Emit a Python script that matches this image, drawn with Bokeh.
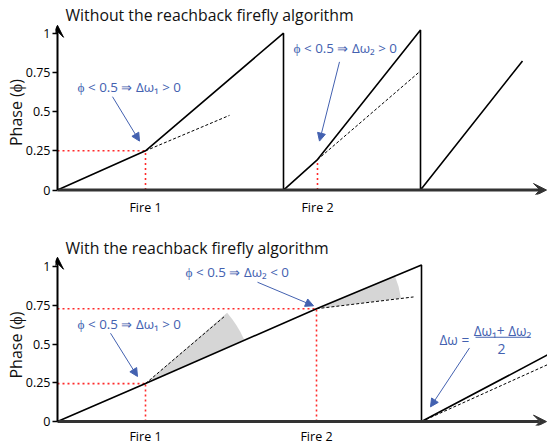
import math
from bokeh.plotting import figure
from bokeh.models import Range1d, FixedTicker, Arrow, VeeHead, NormalHead, Label, Title
from bokeh.layouts import column
from bokeh.embed import file_html
from bokeh.resources import INLINE

# ---------------- data (time: arbitrary units, phase: 0..1) ----------------
ytick_values = [0, 0.25, 0.5, 0.75, 1]
ytick_labels = ["0", "0.25", "0.5", "0.75", "1"]
fire_labels = ["Fire 1", "Fire 2"]

# Top panel: without the reachback firefly algorithm
top_fire_t = [88, 260]
top_fire_phase = [0.25, 0.194]
top_t = [0, 88, 226, 226, 260, 363, 363, 465]
top_phase = [0, 0.25, 1.0, 0, 0.194, 1.02, 0, 0.823]
top_dash1_t = [88, 172]
top_dash1_phase = [0.25, 0.476]
top_dash2_t = [260, 361]
top_dash2_phase = [0.194, 0.748]

# Bottom panel: with the reachback firefly algorithm
bot_fire_t = [88, 259]
bot_fire_phase = [0.245, 0.728]
bot_t = [0, 88, 259, 364, 364, 490]
bot_phase = [0, 0.245, 0.728, 1.01, 0, 0.43]
bot_dash1_t = [88, 168]
bot_dash1_phase = [0.245, 0.684]
bot_dash2_t = [259, 356]
bot_dash2_phase = [0.728, 0.804]
bot_dash3_t = [364, 490]
bot_dash3_phase = [0, 0.367]

# ---------------- styling ----------------
FONT = "Open Sans"
BLUE = "#4361b0"
RED = "#ff2a2a"
GREY = "#d6d6d6"
W = 547
X_RANGE = (-2.0, 490.0)
FRAME_LEFT = 55
SX = (W - FRAME_LEFT) / (X_RANGE[1] - X_RANGE[0])


def make_panel(height, y_range, border_bottom, label_standoff, fire_t, ylabel_offset):
    p = figure(width=W, height=height, output_backend="svg", toolbar_location=None,
               x_range=Range1d(*X_RANGE), y_range=Range1d(*y_range),
               min_border_left=FRAME_LEFT, min_border_right=0, min_border_top=0,
               min_border_bottom=border_bottom)
    p.title.visible = False
    p.grid.visible = False
    p.outline_line_color = None
    p.background_fill_color = "white"
    p.border_fill_color = "white"
    ya = p.yaxis[0]
    ya.ticker = FixedTicker(ticks=ytick_values)
    ya.major_label_overrides = {v: s for v, s in zip(ytick_values, ytick_labels)}
    ya.axis_line_color = None
    ya.major_tick_in = 2
    ya.major_tick_out = 3
    ya.major_tick_line_width = 1.5
    ya.minor_tick_line_color = None
    ya.major_label_standoff = 2
    ya.major_label_text_font = FONT
    ya.major_label_text_font_size = "12.5px"
    ya.major_label_text_color = "black"
    xa = p.xaxis[0]
    xa.ticker = FixedTicker(ticks=fire_t)
    xa.major_label_overrides = {v: s for v, s in zip(fire_t, fire_labels)}
    xa.axis_line_color = None
    xa.major_tick_line_color = None
    xa.minor_tick_line_color = None
    xa.major_tick_in = 0
    xa.major_tick_out = 0
    xa.major_label_standoff = label_standoff
    xa.major_label_text_font = FONT
    xa.major_label_text_font_size = "12.5px"
    xa.major_label_text_color = "black"
    # y-axis label as a side title, so that it can sit off-centre like the reference
    p.add_layout(Title(text="Phase (ϕ)", align="left", offset=ylabel_offset,
                       text_font=FONT, text_font_size="16px", text_font_style="normal",
                       text_color="#111111", standoff=-8), "left")
    return p


def axes_arrows(p, ytop):
    p.add_layout(Arrow(end=VeeHead(size=13, fill_color="#333333", line_color="#333333"),
                       x_start=0, y_start=0, x_end=489, y_end=0,
                       line_color="#333333", line_width=3))
    p.add_layout(Arrow(end=VeeHead(size=12, fill_color="black", line_color="black"),
                       x_start=0, y_start=0, x_end=0, y_end=ytop,
                       line_color="black", line_width=2))


def txt(p, x, y, s, size="13.4px", color=BLUE, align="left", angle=0.0):
    p.add_layout(Label(x=x, y=y, text=s, text_font=FONT, text_font_size=size,
                       text_color=color, text_align=align, text_baseline="middle",
                       angle=angle))


def blue_arrow(p, xs, ys, xe, ye):
    p.add_layout(Arrow(end=NormalHead(size=8, fill_color=BLUE, line_color=BLUE),
                       x_start=xs, y_start=ys, x_end=xe, y_end=ye,
                       line_color=BLUE, line_width=1))


def red_guides(p, t, ph, horizontal=True):
    p.line([t, t], [0, ph], line_color=RED, line_width=1.6, line_dash="2 3")
    if horizontal:
        p.line([0, t], [ph, ph], line_color=RED, line_width=1.6, line_dash="2 3")


# ---------------- top panel ----------------
top_yr = (-0.0284, 1.2082)
p1 = make_panel(218, top_yr, 22, 4, top_fire_t, 48.5)

red_guides(p1, top_fire_t[0], top_fire_phase[0], True)
red_guides(p1, top_fire_t[1], top_fire_phase[1], False)
p1.line(top_dash1_t, top_dash1_phase, line_color="black", line_width=1, line_dash="3 2")
p1.line(top_dash2_t, top_dash2_phase, line_color="black", line_width=1, line_dash="3 2")
p1.line(top_t, top_phase, line_color="black", line_width=1.6)
axes_arrows(p1, 1.05)

txt(p1, 8, 1.114, "Without the reachback firefly algorithm", size="15.8px", color="#111111")
txt(p1, 20, 0.659, "ϕ < 0.5 ⇒ Δω₁ > 0")
blue_arrow(p1, 55, 0.595, 82, 0.312)
txt(p1, 236, 0.905, "ϕ < 0.5 ⇒ Δω₂ > 0")
blue_arrow(p1, 282, 0.817, 262, 0.312)

# ---------------- bottom panel ----------------
bot_yr = (-0.0253, 1.3101)
p2 = make_panel(229, bot_yr, 18, 2, bot_fire_t, 47)
SY2 = 211 / (bot_yr[1] - bot_yr[0])


def screen_angle(t0, p0, t1, p1_, sy):
    return math.atan2((p1_ - p0) * sy, (t1 - t0) * SX)


a_solid1 = screen_angle(bot_fire_t[0], bot_fire_phase[0], bot_fire_t[1], bot_fire_phase[1], SY2)
a_dash1 = screen_angle(bot_dash1_t[0], bot_dash1_phase[0], bot_dash1_t[1], bot_dash1_phase[1], SY2)
a_solid2 = screen_angle(bot_fire_t[1], bot_fire_phase[1], bot_t[3], bot_phase[3], SY2)
a_dash2 = screen_angle(bot_dash2_t[0], bot_dash2_phase[0], bot_dash2_t[1], bot_dash2_phase[1], SY2)

p2.wedge(x=[bot_fire_t[0]], y=[bot_fire_phase[0]], radius=108, radius_units="screen",
         start_angle=a_solid1, end_angle=a_dash1, direction="anticlock",
         fill_color=GREY, line_color=None)
p2.wedge(x=[bot_fire_t[1]], y=[bot_fire_phase[1]], radius=85, radius_units="screen",
         start_angle=a_dash2, end_angle=a_solid2, direction="anticlock",
         fill_color=GREY, line_color=None)

for t, ph in zip(bot_fire_t, bot_fire_phase):
    red_guides(p2, t, ph, True)
for dt, dp in ((bot_dash1_t, bot_dash1_phase), (bot_dash2_t, bot_dash2_phase),
               (bot_dash3_t, bot_dash3_phase)):
    p2.line(dt, dp, line_color="black", line_width=1, line_dash="3 2")
p2.line(bot_t, bot_phase, line_color="black", line_width=1.6)
axes_arrows(p2, 1.06)

txt(p2, 8, 1.12, "With the reachback firefly algorithm", size="15.8px", color="#111111")
txt(p2, 128, 0.962, "ϕ < 0.5 ⇒ Δω₂ < 0")
blue_arrow(p2, 200, 0.899, 256, 0.747)
txt(p2, 20, 0.627, "ϕ < 0.5 ⇒ Δω₁ > 0")
blue_arrow(p2, 53, 0.57, 80, 0.291)
txt(p2, 382, 0.532, "Δω =", size="13.6px")
txt(p2, 445, 0.585, "Δω₁+ Δω₂", align="center", size="13.6px")
p2.line([418, 473], [0.544, 0.544], line_color=BLUE, line_width=1)
txt(p2, 444, 0.468, "2", align="center", size="14px")
blue_arrow(p2, 412, 0.475, 373, 0.095)

layout = column(p1, p2, spacing=0)
open("out.html", "w").write(file_html(layout, INLINE))
